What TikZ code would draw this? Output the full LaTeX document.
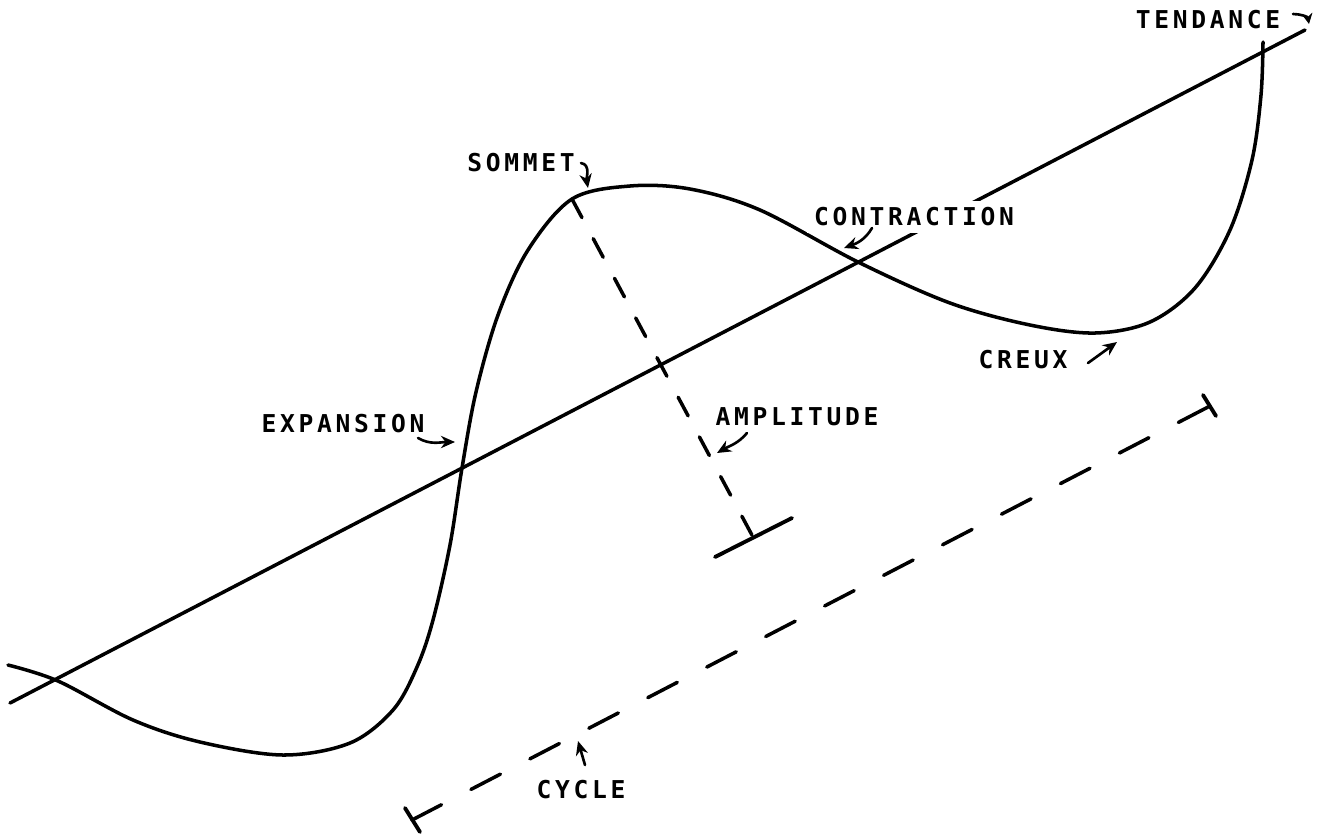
\documentclass[tikz,border=0pt]{standalone}
\usepackage{fontspec}
\usepackage{tikz}
\usetikzlibrary{arrows.meta, positioning}
\newfontfamily\letterfont{DejaVu Sans Mono}[LetterSpace=15]

\begin{document}
\begin{tikzpicture}[
  x=0.02cm, y=-0.02cm,
  lettering/.style={font=\letterfont\bfseries\fontsize{14}{16}\selectfont, inner sep=1pt},
  stroke/.style={line width=2pt, line cap=round},
  pointer/.style={line width=1.5pt, line cap=round, -{Stealth[length=8pt, width=7pt]}},
  ampdash/.style={stroke, dash pattern=on 12pt off 13.6pt},
  cycdash/.style={stroke, dash pattern=on 18.9pt off 18.9pt},
  tick/.style={line width=2.2pt, line cap=round},
]
\useasboundingbox (0,0) rectangle (1325,833);

\coordinate (trendstart) at (10,703);
\coordinate (trendend) at (1305,30);
\coordinate (peak) at (572,199);
\coordinate (ampfoot) at (753,537);
\coordinate (ampbarl) at (715,557);
\coordinate (ampbarr) at (792,518);
\coordinate (cycstart) at (412,820);
\coordinate (cycend) at (1210,406);

\draw[stroke] (trendstart) -- (trendend);
\draw[stroke] plot[smooth, tension=0.55] coordinates {
  (8,665) (58,681) (133,720) (200,742) (283,755) (350,743) (393,710)
  (417,667) (433,620) (450,545) (462,468) (476,392) (498,315) (528,250)
  (572,199) (630,186) (690,189) (760,210) (858,262) (950,303)
  (1030,325) (1095,333) (1150,322) (1195,288) (1230,230) (1252,160)
  (1261,95) (1263,42)};

\draw[ampdash] (peak) -- (ampfoot);
\draw[tick] (ampbarl) -- (ampbarr);

\draw[cycdash] (cycstart) -- (cycend);
\draw[tick] (405,808) -- (420,832);
\draw[tick] (1203,395) -- (1216,416);

\node[lettering] (tendance) at (1208,20) {TENDANCE};
\node[lettering] (sommet) at (521,163) {SOMMET};
\node[lettering, fill=white, inner sep=4pt] (contraction) at (914,217) {CONTRACTION};
\node[lettering] (creux) at (1023,360) {CREUX};
\node[lettering] (expansion) at (343,424) {EXPANSION};
\node[lettering] (amplitude) at (797,417) {AMPLITUDE};
\node[lettering] (cycle) at (581,790) {CYCLE};

\coordinate (tendfrom) at (1293,14);
\coordinate (tendto) at (1309,24);
\coordinate (somfrom) at (581,163);
\coordinate (somto) at (588,188);
\coordinate (confrom) at (872,228);
\coordinate (conto) at (844,248);
\coordinate (crefrom) at (1088,363);
\coordinate (creto) at (1117,342);
\coordinate (expfrom) at (418,438);
\coordinate (expto) at (455,442);
\coordinate (ampfrom) at (747,433);
\coordinate (ampto) at (717,453);
\coordinate (cycfrom) at (585,765);
\coordinate (cycto) at (578,741);

\draw[pointer, -{Stealth[length=6pt, width=6pt]}] (tendfrom) to[out=0, in=100] (tendto);
\draw[pointer] (somfrom) to[out=-10, in=100] (somto);
\draw[pointer] (confrom) to[out=-120, in=20] (conto);
\draw[pointer] (crefrom) -- (creto);
\draw[pointer] (expfrom) to[out=-30, in=180] (expto);
\draw[pointer] (ampfrom) to[out=-130, in=30] (ampto);
\draw[pointer] (cycfrom) -- (cycto);
\end{tikzpicture}
\end{document}
